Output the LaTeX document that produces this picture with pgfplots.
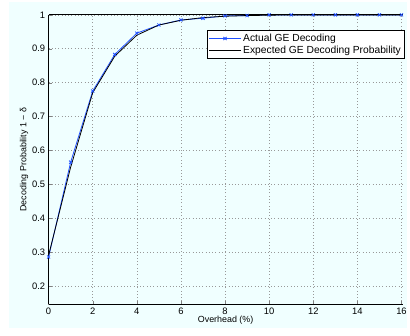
\documentclass[border=0pt]{standalone}
\usepackage{pgfplots}
\pgfplotsset{compat=1.18}
\usepackage{fontspec}
\setmainfont{Liberation Sans}
\definecolor{bgc}{HTML}{F0FFFF}
\definecolor{mblue}{HTML}{1F4FFF}
\begin{document}
\begin{tikzpicture}[x=1bp,y=1bp]
\path[fill=white] (-49,-31) rectangle (361,307);
\path[fill=bgc] (-40,-24) rectangle (361,305);
\begin{axis}[
  at={(0,0)}, anchor=south west,
  scale only axis, width=357bp, height=292bp,
  xmin=0, xmax=16.05, ymin=0.145, ymax=1,
  axis x line*=bottom, axis y line*=left,
  axis line style={line width=1pt},
  xtick={0,2,...,16}, ytick={0.2,0.3,...,1},
  yticklabels={0.2,0.3,0.4,0.5,0.6,0.7,0.8,0.9,1},
  /pgf/number format/assume math mode=true,
  ticklabel style={font=\fontsize{9.5}{11}\selectfont},
  tick align=inside, major tick length=3bp,
  grid=major, grid style={dash pattern=on 0.7bp off 2.6bp, gray!80, line width=0.6pt},
  xlabel={Overhead (\%)}, ylabel={Decoding Probability 1 − δ},
  label style={font=\fontsize{9}{10}\selectfont},
  xlabel style={yshift=5bp},
  ylabel style={yshift=-3bp},
  legend style={at={(1.006,0.947)}, anchor=north east, font=\fontsize{10.4}{12}\selectfont,
    draw=black, line width=0.8pt, fill=white, row sep=-1bp, inner sep=1.5bp},
  legend image code/.code={\draw[#1] (0bp,0bp) -- (32bp,0bp);
     \draw[#1, mark repeat=2, mark phase=2] plot coordinates {(0bp,0bp) (16bp,0bp) (32bp,0bp)};},
  legend cell align=left,
  clip=false,
]
\addplot[mblue, mark=x, mark size=2.2bp, line width=0.8pt] coordinates {
(0,0.285) (1,0.565) (2,0.775) (3,0.883) (4,0.946) (5,0.970) (6,0.985) (7,0.990)
(8,0.997) (9,0.998) (10,1.0) (11,1.0) (12,1.0) (13,1.0) (14,1.0) (15,1.0) (16,1.0)};
\addlegendentry{Actual GE Decoding}
\addplot[black, line width=0.8pt] coordinates {
(0,0.29) (1,0.55) (2,0.77) (3,0.878) (4,0.940) (5,0.970) (6,0.984) (7,0.992)
(8,0.996) (9,0.998) (10,0.999) (11,1.0) (12,1.0) (13,1.0) (14,1.0) (15,1.0) (16,1.0)};
\addlegendentry{Expected GE Decoding Probability}
\draw[line width=1pt] (axis cs:0,1) -- (axis cs:16.05,1);
\end{axis}
\end{tikzpicture}
\end{document}
